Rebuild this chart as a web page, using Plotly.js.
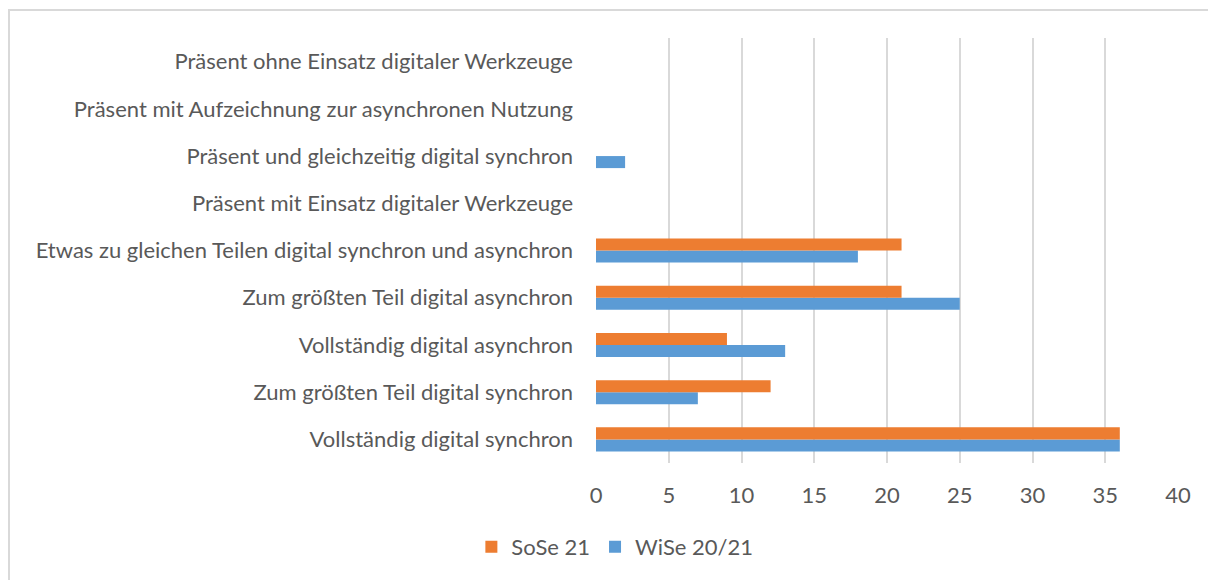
<!DOCTYPE html>
<html><head><meta charset="utf-8">
<script src="https://cdn.plot.ly/plotly-3.0.1.min.js"></script>
<style>
html,body{margin:0;padding:0;background:#fff;}
#frame{position:absolute;left:8px;top:9px;width:1200px;height:571px;border-left:2px solid #d9d9d9;border-top:2px solid #d9d9d9;box-sizing:border-box;pointer-events:none;}
#chart{position:absolute;left:0;top:0;width:1208px;height:580px;}
</style></head>
<body>
<div id="chart"></div>
<div id="frame"></div>
<script>
const categories = [
  "Vollständig digital synchron",
  "Zum größten Teil digital synchron",
  "Vollständig digital asynchron",
  "Zum größten Teil digital asynchron",
  "Etwas zu gleichen Teilen digital synchron und asynchron",
  "Präsent mit Einsatz digitaler Werkzeuge",
  "Präsent und gleichzeitig digital synchron",
  "Präsent mit Aufzeichnung zur asynchronen Nutzung",
  "Präsent ohne Einsatz digitaler Werkzeuge"
];
const sose21 = [36, 12, 9, 21, 21, 0, 0, 0, 0];
const wise2021 = [36, 7, 13, 25, 18, 0, 2, 0, 0];
const xTicks = [0, 5, 10, 15, 20, 25, 30, 35, 40];

const font = {family: "Lato, 'Open Sans', sans-serif", size: 22, color: "#595959"};
const traces = [
  {type: "bar", orientation: "h", name: "WiSe 20/21", y: categories, x: wise2021, marker: {color: "#5b9bd5"}},
  {type: "bar", orientation: "h", name: "SoSe 21", y: categories, x: sose21, marker: {color: "#ed7d31"}}
];
const layout = {
  width: 1208, height: 580,
  margin: {l: 596, r: 30, t: 38, b: 117},
  paper_bgcolor: "#fff", plot_bgcolor: "#fff",
  font: font,
  barmode: "group", bargap: 0.49, bargroupgap: 0,
  showlegend: true,
  legend: {orientation: "h", traceorder: "reversed", x: 0.509, xref: "container", xanchor: "center", y: 0.057, yref: "container", yanchor: "middle", font: font, itemwidth: 30},
  xaxis: {range: [0, 40], tickvals: xTicks, ticktext: xTicks.map(String), showgrid: true, gridcolor: "#d9d9d9", gridwidth: 2, zeroline: false, showline: false, ticks: "", ticklabelstandoff: 17, fixedrange: true},
  yaxis: {type: "category", categoryarray: categories, categoryorder: "array", showgrid: false, zeroline: false, showline: false, ticks: "", ticklabelstandoff: 22, fixedrange: true}
};
Plotly.newPlot("chart", traces, layout, {displayModeBar: false, staticPlot: true});
</script>
</body></html>
